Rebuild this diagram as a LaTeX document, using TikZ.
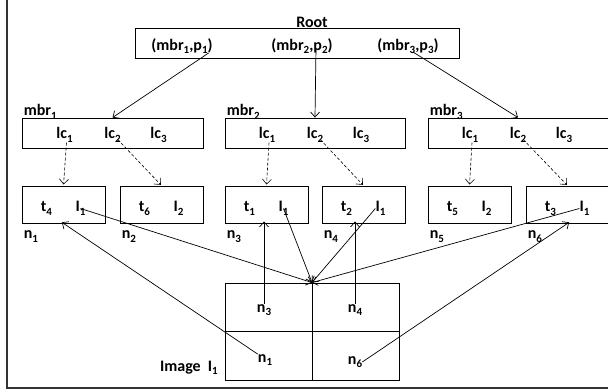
\documentclass[tikz,border=0pt]{standalone}
\usepackage{fontspec}
\setmainfont{Carlito}
\usetikzlibrary{positioning}
\usetikzlibrary{calc}
\usetikzlibrary{arrows.meta}
\newcommand\sub[1]{\raisebox{-0.45ex}{\fontsize{11}{11}\selectfont #1}}

\begin{document}
\begin{tikzpicture}[x=1pt,y=-1pt,
  font=\fontsize{16}{18}\selectfont\bfseries,
  box/.style={draw, line width=0.9pt, minimum height=30pt, inner sep=0pt},
  leaf/.style={draw, line width=0.9pt, minimum width=83pt, minimum height=37pt, inner sep=0pt},
  txt/.style={inner sep=0pt},
  link/.style={-{Straight Barb[length=5pt,width=9pt]}, line width=0.7pt},
  ptr/.style={-{Straight Barb[length=5pt,width=9pt]}, line width=0.6pt, dash pattern=on 3pt off 2pt, shorten >=1pt},
]
\useasboundingbox (0,0) rectangle (608,391);
\draw [line width=1.3pt, black!80] (7,0) -- (7,388) -- (612,388);

% root
\node[box, minimum width=324pt] (root) at (297,43) {};
\node[txt] (rootlbl) at (312,22) {Root};
\node[txt] (e1) at (182,46) {(mbr\sub1,p\sub1)};
\node[txt] (e2) at (302,46) {(mbr\sub2,p\sub2)};
\node[txt] (e3) at (408,46) {(mbr\sub3,p\sub3)};

% mbr boxes
\node[box, minimum width=181pt] (m1) at (112.5,133) {};
\node[box, minimum width=180pt] (m2) at (315,133) {};
\node[box, minimum width=180pt] (m3) at (518,133) {};
\node[txt, anchor=base west] (m1lbl) at ($(m1.north west)+(2,-2)$) {mbr\sub1};
\node[txt, anchor=base west] (m2lbl) at ($(m2.north west)+(2,-2)$) {mbr\sub2};
\node[txt, anchor=base west] (m3lbl) at ($(m3.north west)+(2,-2)$) {mbr\sub3};
\node[txt] (m1c1) at ($(m1)+(-48,2)$) {lc\sub1};
\node[txt] (m1c2) at ($(m1)+(0,2)$) {lc\sub2};
\node[txt] (m1c3) at ($(m1)+(46,2)$) {lc\sub3};
\node[txt] (m2c1) at ($(m2)+(-48,2)$) {lc\sub1};
\node[txt] (m2c2) at ($(m2)+(0,2)$) {lc\sub2};
\node[txt] (m2c3) at ($(m2)+(46,2)$) {lc\sub3};
\node[txt] (m3c1) at ($(m3)+(-48,2)$) {lc\sub1};
\node[txt] (m3c2) at ($(m3)+(0,2)$) {lc\sub2};
\node[txt] (m3c3) at ($(m3)+(46,2)$) {lc\sub3};

% leaf boxes
\node[leaf] (n1) at (63.5,204.5) {};
\node[leaf] (n2) at (161.5,204.5) {};
\node[leaf] (n3) at (266.5,204.5) {};
\node[leaf] (n4) at (363.5,204.5) {};
\node[leaf] (n5) at (469.5,204.5) {};
\node[leaf] (n6) at (567.5,204.5) {};
\node[txt] (n1t) at ($(n1)+(-17,4)$) {t\sub4};
\node[txt] (n1l) at ($(n1)+(17,4)$) {I\sub1};
\node[txt] (n2t) at ($(n2)+(-17,4)$) {t\sub6};
\node[txt] (n2l) at ($(n2)+(17,4)$) {I\sub2};
\node[txt] (n3t) at ($(n3)+(-17,4)$) {t\sub1};
\node[txt] (n3l) at ($(n3)+(17,4)$) {I\sub1};
\node[txt] (n4t) at ($(n4)+(-17,4)$) {t\sub2};
\node[txt] (n4l) at ($(n4)+(17,4)$) {I\sub1};
\node[txt] (n5t) at ($(n5)+(-17,4)$) {t\sub5};
\node[txt] (n5l) at ($(n5)+(17,4)$) {I\sub2};
\node[txt] (n6t) at ($(n6)+(-17,4)$) {t\sub3};
\node[txt] (n6l) at ($(n6)+(17,4)$) {I\sub1};
\node[txt, anchor=north west] (n1lbl) at ($(n1.south west)+(2,7)$) {n\sub1};
\node[txt, anchor=north west] (n2lbl) at ($(n2.south west)+(2,7)$) {n\sub2};
\node[txt, anchor=north west] (n3lbl) at ($(n3.south west)+(2,7)$) {n\sub3};
\node[txt, anchor=north west] (n4lbl) at ($(n4.south west)+(2,7)$) {n\sub4};
\node[txt, anchor=north west] (n5lbl) at ($(n5.south west)+(2,7)$) {n\sub5};
\node[txt, anchor=north west] (n6lbl) at ($(n6.south west)+(2,7)$) {n\sub6};

% image grid
\node[draw, line width=0.9pt, minimum width=174pt, minimum height=97pt, inner sep=0pt] (img) at (312,331.5) {};
\draw [line width=0.9pt] (img.north) -- (img.south);
\draw [line width=0.9pt] (img.west) -- (img.east);
\node[txt] (c3) at (264,310) {n\sub3};
\node[txt] (c4) at (355,310) {n\sub4};
\node[txt] (c1) at (265,360) {n\sub1};
\node[txt] (c6) at (355,362) {n\sub6};
\node[txt, anchor=east] (imglbl) at (218,368) {Image~~I\sub1};

% root pointers
\draw [link] ($(e1.south east)+(-4,-1)$) -- (m1.north);
\draw [link] ($(e2.center)+(14,2)$) -- (m2.north);
\draw [link] ($(e3.center)+(5,6)$) -- (m3.north);

% child pointers
\draw [ptr] ($(m1c1.south)+(2,0)$) -- (n1.north);
\draw [ptr] ($(m1c2.south east)+(-3,-3)$) -- (n2.north);
\draw [ptr] ($(m2c1.south)+(2,0)$) -- (n3.north);
\draw [ptr] ($(m2c2.south east)+(-3,-3)$) -- (n4.north);
\draw [ptr] ($(m3c1.south)+(2,0)$) -- (n5.north);
\draw [ptr] ($(m3c2.south east)+(-3,-3)$) -- (n6.north);

% leaf entries to image
\draw [link] (n1l.center) -- (img.north);
\draw [link] (n3l.center) -- (img.north);
\draw [link] (n4l.west) -- (img.north);
\draw [link] (n6l.west) -- (img.north);

% cells to leaves
\draw [link, shorten >=-2pt] (c3.north) -- (c3.north |- n3.south);
\draw [link, shorten >=-2pt] (c4.north) -- (c4.north |- n4.south);
\draw [link, shorten >=-2pt] (c1.north west) -- (n1.south);
\draw [link, shorten >=-2pt] (c6.east) -- (n6.south);
\end{tikzpicture}
\end{document}
